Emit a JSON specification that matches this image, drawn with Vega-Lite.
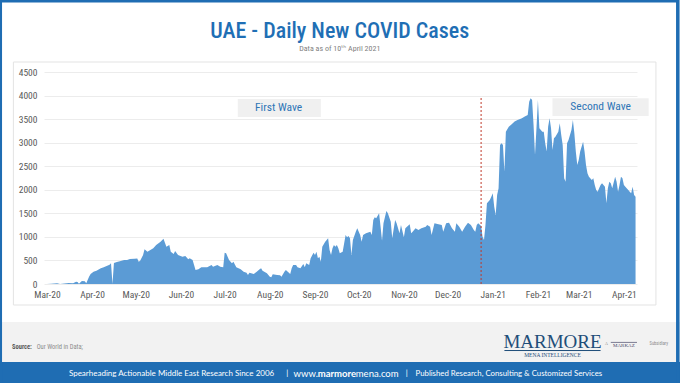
{
  "$schema": "https://vega.github.io/schema/vega-lite/v6.json",
  "width": 593,
  "height": 212,
  "autosize": {"type": "none"},
  "padding": {"left": 44, "top": 72, "right": 43, "bottom": 99},
  "background": "white",
  "config": {
    "view": {"stroke": null},
    "font": "Roboto Condensed, Liberation Sans Narrow, DejaVu Sans Condensed, Roboto, sans-serif",
    "axis": {
      "labelFont": "Roboto Condensed, Liberation Sans Narrow, DejaVu Sans Condensed, Roboto, sans-serif",
      "labelColor": "#595959",
      "labelFontSize": 9.5,
      "domain": false,
      "ticks": false
    }
  },
  "resolve": {"axis": {"x": "independent", "y": "independent"}},
  "data": {
    "values": [
      {"date": "2020-03-01", "cases": 2},
      {"date": "2020-03-04", "cases": 6},
      {"date": "2020-03-08", "cases": 15},
      {"date": "2020-03-10", "cases": 0},
      {"date": "2020-03-13", "cases": 10},
      {"date": "2020-03-16", "cases": 20},
      {"date": "2020-03-19", "cases": 15},
      {"date": "2020-03-21", "cases": 50},
      {"date": "2020-03-22", "cases": 45},
      {"date": "2020-03-23", "cases": 5},
      {"date": "2020-03-25", "cases": 65},
      {"date": "2020-03-27", "cases": 60},
      {"date": "2020-03-28", "cases": 15},
      {"date": "2020-03-30", "cases": 160},
      {"date": "2020-03-31", "cases": 210},
      {"date": "2020-04-02", "cases": 262},
      {"date": "2020-04-04", "cases": 283},
      {"date": "2020-04-07", "cases": 333},
      {"date": "2020-04-09", "cases": 354},
      {"date": "2020-04-11", "cases": 382},
      {"date": "2020-04-13", "cases": 410},
      {"date": "2020-04-14", "cases": 439},
      {"date": "2020-04-15", "cases": 0},
      {"date": "2020-04-16", "cases": 445},
      {"date": "2020-04-18", "cases": 467},
      {"date": "2020-04-20", "cases": 481},
      {"date": "2020-04-23", "cases": 510},
      {"date": "2020-04-25", "cases": 510},
      {"date": "2020-04-27", "cases": 531},
      {"date": "2020-04-30", "cases": 538},
      {"date": "2020-05-02", "cases": 540},
      {"date": "2020-05-03", "cases": 474},
      {"date": "2020-05-04", "cases": 495},
      {"date": "2020-05-06", "cases": 616},
      {"date": "2020-05-07", "cases": 736},
      {"date": "2020-05-09", "cases": 686},
      {"date": "2020-05-11", "cases": 722},
      {"date": "2020-05-13", "cases": 757},
      {"date": "2020-05-15", "cases": 828},
      {"date": "2020-05-18", "cases": 899},
      {"date": "2020-05-20", "cases": 962},
      {"date": "2020-05-21", "cases": 877},
      {"date": "2020-05-22", "cases": 793},
      {"date": "2020-05-24", "cases": 828},
      {"date": "2020-05-25", "cases": 686},
      {"date": "2020-05-27", "cases": 637},
      {"date": "2020-05-28", "cases": 700},
      {"date": "2020-05-30", "cases": 616},
      {"date": "2020-06-02", "cases": 580},
      {"date": "2020-06-04", "cases": 594},
      {"date": "2020-06-06", "cases": 524},
      {"date": "2020-06-07", "cases": 545},
      {"date": "2020-06-09", "cases": 510},
      {"date": "2020-06-11", "cases": 297},
      {"date": "2020-06-13", "cases": 311},
      {"date": "2020-06-15", "cases": 354},
      {"date": "2020-06-19", "cases": 354},
      {"date": "2020-06-22", "cases": 403},
      {"date": "2020-06-23", "cases": 368},
      {"date": "2020-06-26", "cases": 403},
      {"date": "2020-06-28", "cases": 368},
      {"date": "2020-06-30", "cases": 354},
      {"date": "2020-07-01", "cases": 665},
      {"date": "2020-07-02", "cases": 651},
      {"date": "2020-07-04", "cases": 510},
      {"date": "2020-07-06", "cases": 439},
      {"date": "2020-07-07", "cases": 474},
      {"date": "2020-07-09", "cases": 354},
      {"date": "2020-07-12", "cases": 311},
      {"date": "2020-07-14", "cases": 262},
      {"date": "2020-07-16", "cases": 241},
      {"date": "2020-07-17", "cases": 191},
      {"date": "2020-07-18", "cases": 241},
      {"date": "2020-07-21", "cases": 212},
      {"date": "2020-07-23", "cases": 262},
      {"date": "2020-07-25", "cases": 311},
      {"date": "2020-07-26", "cases": 333},
      {"date": "2020-07-27", "cases": 283},
      {"date": "2020-07-30", "cases": 226},
      {"date": "2020-08-01", "cases": 156},
      {"date": "2020-08-02", "cases": 142},
      {"date": "2020-08-03", "cases": 205},
      {"date": "2020-08-06", "cases": 191},
      {"date": "2020-08-08", "cases": 184},
      {"date": "2020-08-09", "cases": 156},
      {"date": "2020-08-11", "cases": 262},
      {"date": "2020-08-12", "cases": 297},
      {"date": "2020-08-15", "cases": 212},
      {"date": "2020-08-16", "cases": 333},
      {"date": "2020-08-17", "cases": 403},
      {"date": "2020-08-19", "cases": 403},
      {"date": "2020-08-20", "cases": 354},
      {"date": "2020-08-22", "cases": 333},
      {"date": "2020-08-24", "cases": 425},
      {"date": "2020-08-25", "cases": 354},
      {"date": "2020-08-26", "cases": 439},
      {"date": "2020-08-28", "cases": 403},
      {"date": "2020-08-29", "cases": 545},
      {"date": "2020-08-31", "cases": 665},
      {"date": "2020-09-01", "cases": 616},
      {"date": "2020-09-02", "cases": 686},
      {"date": "2020-09-03", "cases": 545},
      {"date": "2020-09-04", "cases": 580},
      {"date": "2020-09-05", "cases": 474},
      {"date": "2020-09-06", "cases": 793},
      {"date": "2020-09-08", "cases": 899},
      {"date": "2020-09-09", "cases": 934},
      {"date": "2020-09-10", "cases": 970},
      {"date": "2020-09-11", "cases": 722},
      {"date": "2020-09-12", "cases": 616},
      {"date": "2020-09-13", "cases": 757},
      {"date": "2020-09-14", "cases": 828},
      {"date": "2020-09-15", "cases": 793},
      {"date": "2020-09-16", "cases": 828},
      {"date": "2020-09-17", "cases": 757},
      {"date": "2020-09-18", "cases": 651},
      {"date": "2020-09-20", "cases": 686},
      {"date": "2020-09-22", "cases": 1040},
      {"date": "2020-09-23", "cases": 991},
      {"date": "2020-09-24", "cases": 1019},
      {"date": "2020-09-25", "cases": 970},
      {"date": "2020-09-26", "cases": 616},
      {"date": "2020-09-27", "cases": 934},
      {"date": "2020-09-29", "cases": 1111},
      {"date": "2020-09-30", "cases": 1182},
      {"date": "2020-10-02", "cases": 1040},
      {"date": "2020-10-03", "cases": 899},
      {"date": "2020-10-04", "cases": 1040},
      {"date": "2020-10-06", "cases": 1076},
      {"date": "2020-10-09", "cases": 1111},
      {"date": "2020-10-10", "cases": 1040},
      {"date": "2020-10-11", "cases": 1359},
      {"date": "2020-10-12", "cases": 1415},
      {"date": "2020-10-13", "cases": 1394},
      {"date": "2020-10-15", "cases": 1500},
      {"date": "2020-10-16", "cases": 1217},
      {"date": "2020-10-17", "cases": 920},
      {"date": "2020-10-18", "cases": 1288},
      {"date": "2020-10-20", "cases": 1550},
      {"date": "2020-10-21", "cases": 1500},
      {"date": "2020-10-23", "cases": 1323},
      {"date": "2020-10-24", "cases": 970},
      {"date": "2020-10-26", "cases": 1359},
      {"date": "2020-10-27", "cases": 1288},
      {"date": "2020-10-29", "cases": 1076},
      {"date": "2020-10-30", "cases": 1253},
      {"date": "2020-11-01", "cases": 991},
      {"date": "2020-11-02", "cases": 1182},
      {"date": "2020-11-05", "cases": 1267},
      {"date": "2020-11-06", "cases": 1076},
      {"date": "2020-11-07", "cases": 1111},
      {"date": "2020-11-09", "cases": 1182},
      {"date": "2020-11-11", "cases": 1146},
      {"date": "2020-11-13", "cases": 1182},
      {"date": "2020-11-16", "cases": 1217},
      {"date": "2020-11-17", "cases": 1253},
      {"date": "2020-11-19", "cases": 1217},
      {"date": "2020-11-20", "cases": 1040},
      {"date": "2020-11-22", "cases": 1288},
      {"date": "2020-11-24", "cases": 1274},
      {"date": "2020-11-27", "cases": 1253},
      {"date": "2020-11-28", "cases": 1111},
      {"date": "2020-11-30", "cases": 1288},
      {"date": "2020-12-02", "cases": 1302},
      {"date": "2020-12-04", "cases": 1182},
      {"date": "2020-12-06", "cases": 1111},
      {"date": "2020-12-07", "cases": 1288},
      {"date": "2020-12-09", "cases": 1217},
      {"date": "2020-12-11", "cases": 1111},
      {"date": "2020-12-13", "cases": 1217},
      {"date": "2020-12-15", "cases": 1302},
      {"date": "2020-12-17", "cases": 1253},
      {"date": "2020-12-19", "cases": 1146},
      {"date": "2020-12-20", "cases": 1111},
      {"date": "2020-12-21", "cases": 1253},
      {"date": "2020-12-22", "cases": 1288},
      {"date": "2020-12-24", "cases": 1230},
      {"date": "2020-12-25", "cases": 1005},
      {"date": "2020-12-26", "cases": 934},
      {"date": "2020-12-27", "cases": 1253},
      {"date": "2020-12-28", "cases": 1713},
      {"date": "2020-12-30", "cases": 1783},
      {"date": "2020-12-31", "cases": 1854},
      {"date": "2021-01-01", "cases": 1925},
      {"date": "2021-01-02", "cases": 1642},
      {"date": "2021-01-03", "cases": 1465},
      {"date": "2021-01-04", "cases": 1889},
      {"date": "2021-01-05", "cases": 2031},
      {"date": "2021-01-06", "cases": 2951},
      {"date": "2021-01-07", "cases": 2986},
      {"date": "2021-01-08", "cases": 2951},
      {"date": "2021-01-09", "cases": 2385},
      {"date": "2021-01-10", "cases": 3234},
      {"date": "2021-01-12", "cases": 3340},
      {"date": "2021-01-14", "cases": 3390},
      {"date": "2021-01-16", "cases": 3447},
      {"date": "2021-01-18", "cases": 3482},
      {"date": "2021-01-21", "cases": 3517},
      {"date": "2021-01-23", "cases": 3553},
      {"date": "2021-01-25", "cases": 3588},
      {"date": "2021-01-26", "cases": 3871},
      {"date": "2021-01-27", "cases": 3942},
      {"date": "2021-01-28", "cases": 3906},
      {"date": "2021-01-29", "cases": 3376},
      {"date": "2021-01-30", "cases": 2739},
      {"date": "2021-01-31", "cases": 3305},
      {"date": "2021-02-01", "cases": 3906},
      {"date": "2021-02-02", "cases": 3305},
      {"date": "2021-02-04", "cases": 3234},
      {"date": "2021-02-05", "cases": 3234},
      {"date": "2021-02-06", "cases": 2986},
      {"date": "2021-02-07", "cases": 2810},
      {"date": "2021-02-08", "cases": 3340},
      {"date": "2021-02-09", "cases": 3517},
      {"date": "2021-02-10", "cases": 3305},
      {"date": "2021-02-11", "cases": 2845},
      {"date": "2021-02-12", "cases": 3093},
      {"date": "2021-02-13", "cases": 3128},
      {"date": "2021-02-15", "cases": 3234},
      {"date": "2021-02-16", "cases": 3411},
      {"date": "2021-02-17", "cases": 3163},
      {"date": "2021-02-18", "cases": 2951},
      {"date": "2021-02-19", "cases": 2243},
      {"date": "2021-02-20", "cases": 2173},
      {"date": "2021-02-21", "cases": 2986},
      {"date": "2021-02-22", "cases": 3057},
      {"date": "2021-02-24", "cases": 3270},
      {"date": "2021-02-25", "cases": 3482},
      {"date": "2021-02-26", "cases": 3199},
      {"date": "2021-02-27", "cases": 2810},
      {"date": "2021-02-28", "cases": 2527},
      {"date": "2021-03-01", "cases": 2633},
      {"date": "2021-03-02", "cases": 2810},
      {"date": "2021-03-04", "cases": 3022},
      {"date": "2021-03-05", "cases": 2810},
      {"date": "2021-03-06", "cases": 2527},
      {"date": "2021-03-07", "cases": 2350},
      {"date": "2021-03-08", "cases": 2279},
      {"date": "2021-03-10", "cases": 2208},
      {"date": "2021-03-11", "cases": 2243},
      {"date": "2021-03-12", "cases": 2102},
      {"date": "2021-03-13", "cases": 1996},
      {"date": "2021-03-14", "cases": 1960},
      {"date": "2021-03-15", "cases": 2031},
      {"date": "2021-03-16", "cases": 2102},
      {"date": "2021-03-17", "cases": 2137},
      {"date": "2021-03-19", "cases": 2066},
      {"date": "2021-03-20", "cases": 1713},
      {"date": "2021-03-21", "cases": 2031},
      {"date": "2021-03-22", "cases": 2173},
      {"date": "2021-03-23", "cases": 2137},
      {"date": "2021-03-24", "cases": 2031},
      {"date": "2021-03-26", "cases": 2279},
      {"date": "2021-03-27", "cases": 2173},
      {"date": "2021-03-28", "cases": 1960},
      {"date": "2021-03-29", "cases": 2102},
      {"date": "2021-03-30", "cases": 2279},
      {"date": "2021-03-31", "cases": 2243},
      {"date": "2021-04-01", "cases": 2102},
      {"date": "2021-04-02", "cases": 2066},
      {"date": "2021-04-04", "cases": 1996},
      {"date": "2021-04-05", "cases": 1960},
      {"date": "2021-04-06", "cases": 1925},
      {"date": "2021-04-07", "cases": 2066},
      {"date": "2021-04-08", "cases": 1889},
      {"date": "2021-04-09", "cases": 1854}
    ]
  },
  "layer": [
    {
      "mark": {"type": "area", "color": "#5b9bd5", "interpolate": "linear"},
      "encoding": {
        "x": {
          "field": "date",
          "type": "temporal",
          "title": null,
          "scale": {
            "type": "utc",
            "domain": [
              {"year": 2020, "month": 2, "date": 28, "utc": true},
              {"year": 2021, "month": 4, "date": 10, "utc": true}
            ]
          },
          "axis": {
            "format": "%b-%y",
            "tickCount": {"interval": "month", "step": 1},
            "labelOverlap": false,
            "labelFlush": false,
            "labelPadding": 5,
            "grid": false
          }
        },
        "y": {
          "field": "cases",
          "type": "quantitative",
          "title": null,
          "scale": {"domain": [0, 4500], "nice": false},
          "axis": {
            "values": [0, 500, 1000, 1500, 2000, 2500, 3000, 3500, 4000, 4500],
            "format": "d",
            "grid": true,
            "gridColor": "#ececec",
            "gridWidth": 1,
            "labelPadding": 7
          }
        }
      }
    },
    {
      "data": {"values": [{}]},
      "mark": {"type": "rect", "fill": "transparent", "stroke": "#e3e3e3", "strokeWidth": 1},
      "encoding": {
        "x": {"datum": {"year": 2020, "month": 2, "date": 7, "utc": true}, "type": "temporal", "axis": null},
        "x2": {"datum": {"year": 2021, "month": 4, "date": 23, "utc": true}},
        "y": {"datum": 4712, "type": "quantitative", "axis": null},
        "y2": {"datum": -446}
      }
    },
    {
      "data": {"values": [{}]},
      "mark": {"type": "rect", "fill": "#f2f2f2"},
      "encoding": {
        "x": {"datum": {"year": 2020, "month": 1, "date": 1, "utc": true}, "type": "temporal", "axis": null},
        "x2": {"datum": {"year": 2021, "month": 6, "date": 1, "utc": true}},
        "y": {"datum": -807, "type": "quantitative", "axis": null},
        "y2": {"datum": -1656}
      }
    },
    {
      "data": {"values": [{}]},
      "mark": {"type": "rect", "fill": "#1f6db3"},
      "encoding": {
        "x": {"datum": {"year": 2020, "month": 1, "date": 1, "utc": true}, "type": "temporal", "axis": null},
        "x2": {"datum": {"year": 2021, "month": 6, "date": 1, "utc": true}},
        "y": {"datum": -1656, "type": "quantitative", "axis": null},
        "y2": {"datum": -2400}
      }
    },
    {
      "data": {"values": [{}]},
      "mark": {"type": "text", "text": "UAE - Daily New COVID Cases", "color": "#1f6fb5", "fontSize": 22, "fontWeight": 500, "align": "center", "baseline": "middle"},
      "encoding": {
        "x": {"datum": {"year": 2020, "month": 9, "date": 18, "utc": true}, "type": "temporal", "axis": null},
        "y": {"datum": 5370, "type": "quantitative", "axis": null}
      }
    },
    {
      "data": {"values": [{}]},
      "mark": {"type": "text", "text": "Data as of 10ᵗʰ April 2021", "color": "#7f7f7f", "fontSize": 8, "align": "center", "baseline": "middle"},
      "encoding": {
        "x": {"datum": {"year": 2020, "month": 9, "date": 18, "utc": true}, "type": "temporal", "axis": null},
        "y": {"datum": 4990, "type": "quantitative", "axis": null}
      }
    },
    {
      "data": {"values": [{}]},
      "mark": {"type": "rule", "color": "#c0392b", "strokeDash": [2, 2], "strokeWidth": 1},
      "encoding": {
        "x": {"datum": {"year": 2020, "month": 12, "date": 24, "utc": true}, "type": "temporal", "axis": null},
        "y": {"datum": 0, "type": "quantitative", "axis": null},
        "y2": {"datum": 3950}
      }
    },
    {
      "data": {"values": [{}]},
      "mark": {"type": "rect", "fill": "#f0f0f0"},
      "encoding": {
        "x": {"datum": {"year": 2020, "month": 7, "date": 10, "utc": true}, "type": "temporal", "axis": null},
        "x2": {"datum": {"year": 2020, "month": 9, "date": 5, "utc": true}},
        "y": {"datum": 3545, "type": "quantitative", "axis": null},
        "y2": {"datum": 3927}
      }
    },
    {
      "data": {"values": [{}]},
      "mark": {"type": "rect", "fill": "#f0f0f0"},
      "encoding": {
        "x": {"datum": {"year": 2021, "month": 2, "date": 11, "utc": true}, "type": "temporal", "axis": null},
        "x2": {"datum": {"year": 2021, "month": 4, "date": 18, "utc": true}},
        "y": {"datum": 3566, "type": "quantitative", "axis": null},
        "y2": {"datum": 3942}
      }
    },
    {
      "data": {"values": [{}]},
      "mark": {"type": "text", "text": "First Wave", "color": "#2e75b6", "fontSize": 11.5, "align": "center", "baseline": "middle"},
      "encoding": {
        "x": {"datum": {"year": 2020, "month": 8, "date": 7, "utc": true}, "type": "temporal", "axis": null},
        "y": {"datum": 3736, "type": "quantitative", "axis": null}
      }
    },
    {
      "data": {"values": [{}]},
      "mark": {"type": "text", "text": "Second Wave", "color": "#2e75b6", "fontSize": 11.5, "align": "center", "baseline": "middle"},
      "encoding": {
        "x": {"datum": {"year": 2021, "month": 3, "date": 16, "utc": true}, "type": "temporal", "axis": null},
        "y": {"datum": 3757, "type": "quantitative", "axis": null}
      }
    },
    {
      "data": {"values": [{}]},
      "mark": {"type": "text", "text": "Source:", "color": "#595959", "fontSize": 6.5, "fontWeight": "bold", "align": "left", "baseline": "middle"},
      "encoding": {
        "x": {"datum": {"year": 2020, "month": 2, "date": 6, "utc": true}, "type": "temporal", "axis": null},
        "y": {"datum": -1337, "type": "quantitative", "axis": null}
      }
    },
    {
      "data": {"values": [{}]},
      "mark": {"type": "text", "text": "Our World in Data;", "color": "#8c8c8c", "fontSize": 6.5, "align": "left", "baseline": "middle"},
      "encoding": {
        "x": {"datum": {"year": 2020, "month": 2, "date": 23, "utc": true}, "type": "temporal", "axis": null},
        "y": {"datum": -1337, "type": "quantitative", "axis": null}
      }
    },
    {
      "data": {"values": [{}]},
      "mark": {"type": "text", "text": "MARMORE", "color": "#1f4e79", "font": "Liberation Serif, DejaVu Serif, serif", "fontSize": 19, "align": "center", "baseline": "alphabetic"},
      "encoding": {
        "x": {"datum": {"year": 2021, "month": 2, "date": 11, "utc": true}, "type": "temporal", "axis": null},
        "y": {"datum": -1358, "type": "quantitative", "axis": null}
      }
    },
    {
      "data": {"values": [{}]},
      "mark": {"type": "rule", "color": "#1f4e79", "strokeWidth": 1},
      "encoding": {
        "x": {"datum": {"year": 2021, "month": 1, "date": 9, "utc": true}, "type": "temporal", "axis": null},
        "x2": {"datum": {"year": 2021, "month": 3, "date": 16, "utc": true}},
        "y": {"datum": -1412, "type": "quantitative", "axis": null}
      }
    },
    {
      "data": {"values": [{}]},
      "mark": {"type": "text", "text": "MENA INTELLIGENCE", "color": "#1f4e79", "font": "Liberation Serif, DejaVu Serif, serif", "fontSize": 5.5, "align": "center", "baseline": "middle"},
      "encoding": {
        "x": {"datum": {"year": 2021, "month": 2, "date": 11, "utc": true}, "type": "temporal", "axis": null},
        "y": {"datum": -1507, "type": "quantitative", "axis": null}
      }
    },
    {
      "data": {"values": [{}]},
      "mark": {"type": "text", "text": "A", "color": "#7f7f7f", "font": "Liberation Serif, DejaVu Serif, serif", "fontSize": 4, "align": "center", "baseline": "middle"},
      "encoding": {
        "x": {"datum": {"year": 2021, "month": 3, "date": 20, "utc": true}, "type": "temporal", "axis": null},
        "y": {"datum": -1274, "type": "quantitative", "axis": null}
      }
    },
    {
      "data": {"values": [{}]},
      "mark": {"type": "text", "text": "MARKAZ", "color": "#4a4a6a", "font": "Liberation Serif, DejaVu Serif, serif", "fontSize": 5, "align": "center", "baseline": "middle"},
      "encoding": {
        "x": {"datum": {"year": 2021, "month": 4, "date": 1, "utc": true}, "type": "temporal", "axis": null},
        "y": {"datum": -1305, "type": "quantitative", "axis": null}
      }
    },
    {
      "data": {"values": [{}]},
      "mark": {"type": "rule", "color": "#4a4a6a", "strokeWidth": 0.7},
      "encoding": {
        "x": {"datum": {"year": 2021, "month": 3, "date": 23, "utc": true}, "type": "temporal", "axis": null},
        "x2": {"datum": {"year": 2021, "month": 4, "date": 10, "utc": true}},
        "y": {"datum": -1240, "type": "quantitative", "axis": null}
      }
    },
    {
      "data": {"values": [{}]},
      "mark": {"type": "text", "text": "Subsidiary", "color": "#8c8c8c", "fontSize": 4.5, "align": "center", "baseline": "middle"},
      "encoding": {
        "x": {"datum": {"year": 2021, "month": 4, "date": 25, "utc": true}, "type": "temporal", "axis": null},
        "y": {"datum": -1274, "type": "quantitative", "axis": null}
      }
    },
    {
      "data": {"values": [{}]},
      "mark": {"type": "text", "text": "Spearheading Actionable Middle East Research Since 2006", "color": "white", "font": "Lato, Open Sans, sans-serif", "fontSize": 8, "align": "right", "baseline": "middle"},
      "encoding": {
        "x": {"datum": {"year": 2020, "month": 8, "date": 4, "utc": true}, "type": "temporal", "axis": null},
        "y": {"datum": -1905, "type": "quantitative", "axis": null}
      }
    },
    {
      "data": {"values": [{}]},
      "mark": {"type": "text", "text": "|", "color": "white", "font": "Lato, Open Sans, sans-serif", "fontSize": 8, "align": "center", "baseline": "middle"},
      "encoding": {
        "x": {"datum": {"year": 2020, "month": 8, "date": 13, "utc": true}, "type": "temporal", "axis": null},
        "y": {"datum": -1905, "type": "quantitative", "axis": null}
      }
    },
    {
      "data": {"values": [{}]},
      "mark": {"type": "text", "text": "www.", "color": "white", "font": "Lato, Open Sans, sans-serif", "fontSize": 9.5, "align": "right", "baseline": "middle"},
      "encoding": {
        "x": {"datum": {"year": 2020, "month": 9, "date": 3, "utc": true}, "type": "temporal", "axis": null},
        "y": {"datum": -1905, "type": "quantitative", "axis": null}
      }
    },
    {
      "data": {"values": [{}]},
      "mark": {"type": "text", "text": "marmore", "color": "white", "font": "Lato, Open Sans, sans-serif", "fontSize": 9.5, "fontWeight": "bold", "align": "center", "baseline": "middle"},
      "encoding": {
        "x": {"datum": {"year": 2020, "month": 9, "date": 16, "utc": true}, "type": "temporal", "axis": null},
        "y": {"datum": -1905, "type": "quantitative", "axis": null}
      }
    },
    {
      "data": {"values": [{}]},
      "mark": {"type": "text", "text": "mena.com", "color": "white", "font": "Lato, Open Sans, sans-serif", "fontSize": 9.5, "align": "left", "baseline": "middle"},
      "encoding": {
        "x": {"datum": {"year": 2020, "month": 9, "date": 29, "utc": true}, "type": "temporal", "axis": null},
        "y": {"datum": -1905, "type": "quantitative", "axis": null}
      }
    },
    {
      "data": {"values": [{}]},
      "mark": {"type": "text", "text": "|", "color": "white", "font": "Lato, Open Sans, sans-serif", "fontSize": 8, "align": "center", "baseline": "middle"},
      "encoding": {
        "x": {"datum": {"year": 2020, "month": 11, "date": 3, "utc": true}, "type": "temporal", "axis": null},
        "y": {"datum": -1905, "type": "quantitative", "axis": null}
      }
    },
    {
      "data": {"values": [{}]},
      "mark": {"type": "text", "text": "Published Research, Consulting & Customized Services", "color": "white", "font": "Lato, Open Sans, sans-serif", "fontSize": 7.8, "align": "left", "baseline": "middle"},
      "encoding": {
        "x": {"datum": {"year": 2020, "month": 11, "date": 9, "utc": true}, "type": "temporal", "axis": null},
        "y": {"datum": -1905, "type": "quantitative", "axis": null}
      }
    },
    {
      "data": {"values": [{}]},
      "mark": {"type": "rect", "fill": "transparent", "stroke": "#1f6db3", "strokeWidth": 3.5},
      "encoding": {
        "x": {"datum": {"year": 2020, "month": 1, "date": 29, "utc": true}, "type": "temporal", "axis": null},
        "x2": {"datum": {"year": 2021, "month": 5, "date": 8, "utc": true}},
        "y": {"datum": 6010, "type": "quantitative", "axis": null},
        "y2": {"datum": -2400}
      }
    }
  ]
}
